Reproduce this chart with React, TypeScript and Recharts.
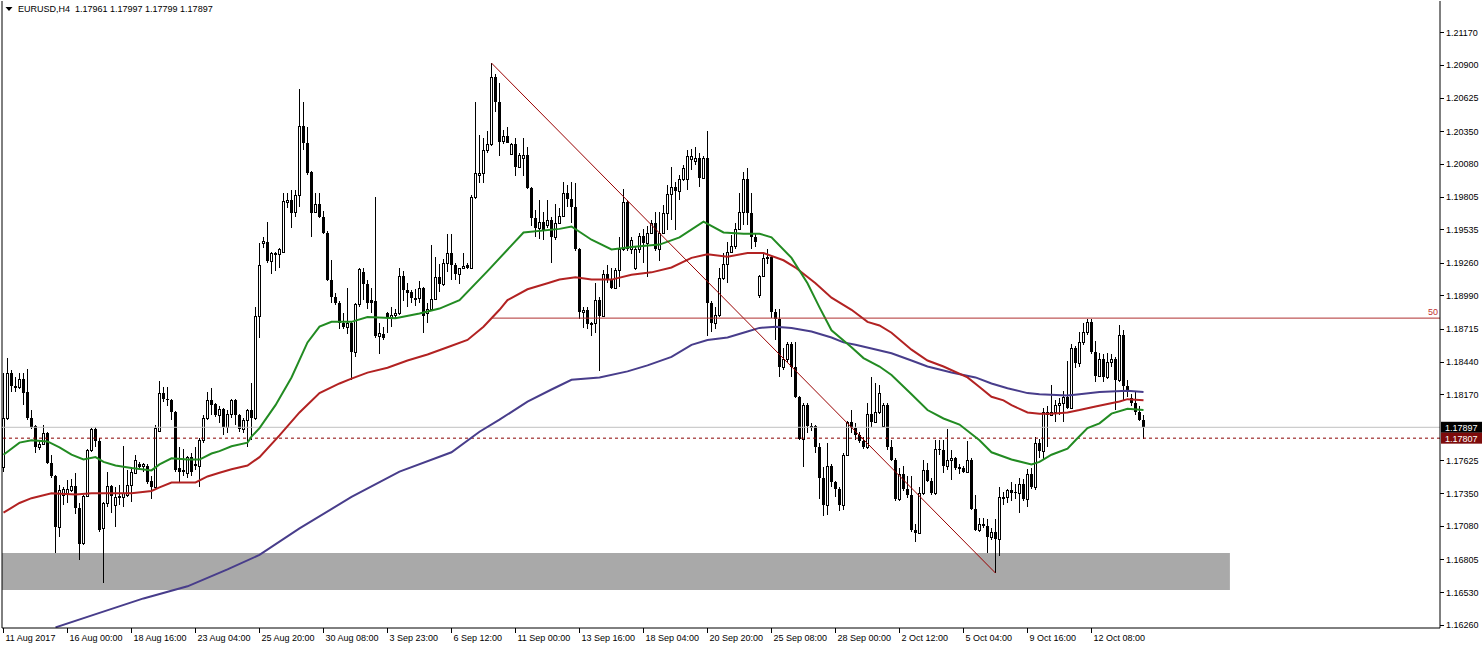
import React from "react";
import { ComposedChart, Bar, Line, XAxis, YAxis, ReferenceLine, ReferenceArea } from "recharts";

document.body.style.margin = "0";

// EURUSD H4 candles: [open, high, low, close]
const candles: number[][] = [
  [1.1757, 1.1835, 1.1753, 1.1797], // 0
  [1.1797, 1.1847, 1.1796, 1.1835],
  [1.1835, 1.1837, 1.1819, 1.1824],
  [1.1824, 1.1831, 1.1819, 1.1822],
  [1.1823, 1.1835, 1.1821, 1.1830],
  [1.1830, 1.1835, 1.1808, 1.1818],
  [1.1819, 1.1838, 1.1796, 1.1797],
  [1.1797, 1.1804, 1.1788, 1.1790],
  [1.1791, 1.1792, 1.1768, 1.1773],
  [1.1773, 1.1779, 1.1771, 1.1776],
  [1.1776, 1.1792, 1.1775, 1.1785], // 10
  [1.1785, 1.1786, 1.1759, 1.1760],
  [1.1760, 1.1767, 1.1748, 1.1749],
  [1.1749, 1.1750, 1.1686, 1.1707],
  [1.1707, 1.1742, 1.1699, 1.1738],
  [1.1734, 1.1740, 1.1725, 1.1739],
  [1.1735, 1.1746, 1.1727, 1.1739],
  [1.1738, 1.1747, 1.1736, 1.1741],
  [1.1741, 1.1752, 1.1718, 1.1723],
  [1.1723, 1.1727, 1.1680, 1.1693],
  [1.1694, 1.1734, 1.1692, 1.1733], // 20
  [1.1733, 1.1772, 1.1732, 1.1771],
  [1.1771, 1.1789, 1.1769, 1.1788],
  [1.1788, 1.1790, 1.1773, 1.1778],
  [1.1778, 1.1781, 1.1703, 1.1705],
  [1.1706, 1.1728, 1.1661, 1.1727],
  [1.1727, 1.1753, 1.1724, 1.1741],
  [1.1741, 1.1742, 1.1719, 1.1733],
  [1.1725, 1.1740, 1.1707, 1.1732],
  [1.1732, 1.1742, 1.1725, 1.1733],
  [1.1732, 1.1774, 1.1724, 1.1735], // 30
  [1.1734, 1.1754, 1.1732, 1.1742],
  [1.1742, 1.1757, 1.1728, 1.1753],
  [1.1752, 1.1767, 1.1751, 1.1763],
  [1.1759, 1.1761, 1.1756, 1.1757],
  [1.1758, 1.1760, 1.1753, 1.1759],
  [1.1758, 1.1759, 1.1743, 1.1744],
  [1.1745, 1.1749, 1.1730, 1.1740],
  [1.1740, 1.1792, 1.1738, 1.1789],
  [1.1787, 1.1828, 1.1786, 1.1818],
  [1.1818, 1.1823, 1.1811, 1.1813], // 40
  [1.1813, 1.1823, 1.1807, 1.1812],
  [1.1812, 1.1813, 1.1796, 1.1802],
  [1.1802, 1.1803, 1.1753, 1.1754],
  [1.1756, 1.1773, 1.1744, 1.1753],
  [1.1754, 1.1772, 1.1749, 1.1753],
  [1.1752, 1.1766, 1.1748, 1.1765],
  [1.1765, 1.1768, 1.1749, 1.1753],
  [1.1759, 1.1773, 1.1754, 1.1758],
  [1.1758, 1.1781, 1.1740, 1.1779],
  [1.1779, 1.1800, 1.1777, 1.1797], // 50
  [1.1797, 1.1819, 1.1796, 1.1812],
  [1.1812, 1.1822, 1.1800, 1.1808],
  [1.1809, 1.1810, 1.1798, 1.1800],
  [1.1800, 1.1807, 1.1793, 1.1805],
  [1.1805, 1.1806, 1.1783, 1.1790],
  [1.1790, 1.1804, 1.1785, 1.1801],
  [1.1801, 1.1813, 1.1797, 1.1812],
  [1.1812, 1.1813, 1.1792, 1.1800],
  [1.1800, 1.1801, 1.1786, 1.1788],
  [1.1788, 1.1797, 1.1785, 1.1796], // 60
  [1.1796, 1.1805, 1.1773, 1.1804],
  [1.1804, 1.1826, 1.1779, 1.1797],
  [1.1797, 1.1889, 1.1796, 1.1882],
  [1.1882, 1.1942, 1.1864, 1.1924],
  [1.1942, 1.1947, 1.1938, 1.1944],
  [1.1943, 1.1960, 1.1926, 1.1927],
  [1.1927, 1.1935, 1.1917, 1.1934],
  [1.1933, 1.1935, 1.1919, 1.1934],
  [1.1933, 1.1938, 1.1922, 1.1937],
  [1.1935, 1.1984, 1.1934, 1.1977], // 70
  [1.1976, 1.1984, 1.1971, 1.1978],
  [1.1978, 1.1986, 1.1955, 1.1967],
  [1.1968, 1.1986, 1.1964, 1.1982],
  [1.1982, 1.2070, 1.1972, 1.2039],
  [1.2039, 1.2059, 1.2019, 1.2025],
  [1.2025, 1.2038, 1.1999, 1.2000],
  [1.2001, 1.2002, 1.1947, 1.1967],
  [1.1968, 1.1984, 1.1967, 1.1975],
  [1.1975, 1.1984, 1.1963, 1.1964],
  [1.1964, 1.1969, 1.1950, 1.1951], // 80
  [1.1951, 1.1952, 1.1911, 1.1912],
  [1.1912, 1.1928, 1.1893, 1.1898],
  [1.1898, 1.1901, 1.1891, 1.1893],
  [1.1893, 1.1894, 1.1871, 1.1876],
  [1.1876, 1.1884, 1.1871, 1.1873],
  [1.1873, 1.1905, 1.1867, 1.1876],
  [1.1876, 1.1877, 1.1829, 1.1852],
  [1.1852, 1.1893, 1.1848, 1.1892],
  [1.1892, 1.1922, 1.1889, 1.1921],
  [1.1918, 1.1922, 1.1895, 1.1908], // 90
  [1.1908, 1.1912, 1.1888, 1.1893],
  [1.1895, 1.1905, 1.1884, 1.1893],
  [1.1894, 1.1980, 1.1864, 1.1865],
  [1.1865, 1.1876, 1.1850, 1.1868],
  [1.1867, 1.1873, 1.1862, 1.1864],
  [1.1884, 1.1885, 1.1868, 1.1880],
  [1.1880, 1.1889, 1.1873, 1.1883],
  [1.1883, 1.1888, 1.1880, 1.1884],
  [1.1884, 1.1922, 1.1883, 1.1915],
  [1.1915, 1.1919, 1.1894, 1.1903], // 100
  [1.1903, 1.1909, 1.1889, 1.1901],
  [1.1902, 1.1903, 1.1893, 1.1897],
  [1.1897, 1.1904, 1.1890, 1.1897],
  [1.1897, 1.1911, 1.1893, 1.1905],
  [1.1905, 1.1906, 1.1868, 1.1882],
  [1.1884, 1.1893, 1.1876, 1.1888],
  [1.1888, 1.1941, 1.1887, 1.1896],
  [1.1896, 1.1931, 1.1895, 1.1914],
  [1.1914, 1.1925, 1.1902, 1.1908],
  [1.1908, 1.1929, 1.1907, 1.1926], // 110
  [1.1926, 1.1950, 1.1918, 1.1934],
  [1.1934, 1.1950, 1.1912, 1.1924],
  [1.1924, 1.1926, 1.1912, 1.1917],
  [1.1917, 1.1922, 1.1908, 1.1922],
  [1.1922, 1.1934, 1.1921, 1.1923],
  [1.1924, 1.1926, 1.1921, 1.1922],
  [1.1922, 1.1982, 1.1921, 1.1980],
  [1.1980, 1.2059, 1.1979, 1.2000],
  [1.1999, 1.2032, 1.1992, 1.2000],
  [1.2000, 1.2029, 1.1992, 1.2019], // 120
  [1.2019, 1.2035, 1.2017, 1.2024],
  [1.2024, 1.2091, 1.2023, 1.2080],
  [1.2080, 1.2082, 1.2051, 1.2059],
  [1.2059, 1.2075, 1.2014, 1.2026],
  [1.2027, 1.2036, 1.2024, 1.2031],
  [1.2031, 1.2038, 1.2025, 1.2025],
  [1.2016, 1.2025, 1.2015, 1.2024],
  [1.2024, 1.2029, 1.1998, 1.2005],
  [1.2005, 1.2017, 1.2004, 1.2015],
  [1.2013, 1.2029, 1.1998, 1.2015], // 130
  [1.2015, 1.2022, 1.1987, 1.1988],
  [1.1988, 1.1989, 1.1956, 1.1963],
  [1.1963, 1.1970, 1.1947, 1.1955],
  [1.1955, 1.1978, 1.1946, 1.1960],
  [1.1960, 1.1968, 1.1945, 1.1953],
  [1.1957, 1.1978, 1.1955, 1.1961],
  [1.1961, 1.1964, 1.1926, 1.1947],
  [1.1947, 1.1975, 1.1945, 1.1959],
  [1.1959, 1.1971, 1.1958, 1.1965],
  [1.1965, 1.1993, 1.1964, 1.1984], // 140
  [1.1984, 1.1990, 1.1972, 1.1979],
  [1.1979, 1.1993, 1.1959, 1.1972],
  [1.1972, 1.1992, 1.1936, 1.1937],
  [1.1937, 1.1938, 1.1879, 1.1885],
  [1.1885, 1.1889, 1.1872, 1.1887],
  [1.1887, 1.1889, 1.1871, 1.1875],
  [1.1875, 1.1877, 1.1865, 1.1876],
  [1.1876, 1.1909, 1.1868, 1.1895],
  [1.1895, 1.1898, 1.1836, 1.1882],
  [1.1882, 1.1920, 1.1881, 1.1917], // 150
  [1.1917, 1.1924, 1.1909, 1.1912],
  [1.1912, 1.1922, 1.1904, 1.1905],
  [1.1905, 1.1922, 1.1904, 1.1920],
  [1.1920, 1.1947, 1.1906, 1.1937],
  [1.1937, 1.1987, 1.1936, 1.1976],
  [1.1976, 1.1978, 1.1936, 1.1937],
  [1.1937, 1.1947, 1.1933, 1.1945],
  [1.1922, 1.1939, 1.1920, 1.1937],
  [1.1937, 1.1951, 1.1934, 1.1948],
  [1.1948, 1.1954, 1.1926, 1.1942], // 160
  [1.1942, 1.1956, 1.1914, 1.1951],
  [1.1951, 1.1961, 1.1950, 1.1959],
  [1.1959, 1.1968, 1.1936, 1.1937],
  [1.1937, 1.1968, 1.1927, 1.1951],
  [1.1951, 1.1974, 1.1950, 1.1967],
  [1.1967, 1.1990, 1.1953, 1.1983],
  [1.1983, 1.2005, 1.1961, 1.1989],
  [1.1989, 1.1993, 1.1953, 1.1985],
  [1.1985, 1.1999, 1.1978, 1.1995],
  [1.1995, 1.2007, 1.1994, 1.2004], // 170
  [1.1995, 1.2019, 1.1986, 1.2014],
  [1.2012, 1.2020, 1.2003, 1.2014],
  [1.2010, 1.2022, 1.2007, 1.2013],
  [1.2013, 1.2017, 1.1989, 1.1996],
  [1.1996, 1.2014, 1.1995, 1.2013],
  [1.2013, 1.2035, 1.1865, 1.1893],
  [1.1893, 1.1894, 1.1869, 1.1876],
  [1.1876, 1.1889, 1.1871, 1.1883],
  [1.1883, 1.1922, 1.1881, 1.1913],
  [1.1913, 1.1934, 1.1912, 1.1925], // 180
  [1.1925, 1.1943, 1.1909, 1.1935],
  [1.1935, 1.1949, 1.1934, 1.1940],
  [1.1940, 1.1959, 1.1937, 1.1954],
  [1.1954, 1.1984, 1.1953, 1.1968],
  [1.1968, 1.2001, 1.1957, 1.1995],
  [1.1995, 1.2004, 1.1957, 1.1967],
  [1.1967, 1.1984, 1.1937, 1.1947],
  [1.1947, 1.1951, 1.1939, 1.1943],
  [1.1899, 1.1916, 1.1897, 1.1915],
  [1.1915, 1.1933, 1.1914, 1.1930], // 190
  [1.1930, 1.1937, 1.1925, 1.1931],
  [1.1931, 1.1932, 1.1880, 1.1885],
  [1.1885, 1.1888, 1.1862, 1.1879],
  [1.1879, 1.1888, 1.1831, 1.1840],
  [1.1840, 1.1855, 1.1837, 1.1846],
  [1.1846, 1.1860, 1.1843, 1.1859],
  [1.1859, 1.1860, 1.1831, 1.1840],
  [1.1840, 1.1860, 1.1814, 1.1815],
  [1.1815, 1.1816, 1.1779, 1.1780],
  [1.1780, 1.1810, 1.1757, 1.1808], // 200
  [1.1808, 1.1810, 1.1785, 1.1791],
  [1.1790, 1.1793, 1.1787, 1.1791],
  [1.1791, 1.1792, 1.1768, 1.1773],
  [1.1773, 1.1777, 1.1730, 1.1748],
  [1.1748, 1.1757, 1.1716, 1.1725],
  [1.1725, 1.1777, 1.1717, 1.1758],
  [1.1758, 1.1759, 1.1740, 1.1744],
  [1.1744, 1.1745, 1.1732, 1.1739],
  [1.1739, 1.1740, 1.1720, 1.1725],
  [1.1725, 1.1768, 1.1721, 1.1767], // 210
  [1.1767, 1.1795, 1.1766, 1.1794],
  [1.1794, 1.1804, 1.1785, 1.1789],
  [1.1789, 1.1793, 1.1779, 1.1783],
  [1.1783, 1.1786, 1.1777, 1.1778],
  [1.1778, 1.1782, 1.1772, 1.1773],
  [1.1773, 1.1810, 1.1772, 1.1801],
  [1.1801, 1.1831, 1.1790, 1.1794],
  [1.1794, 1.1826, 1.1793, 1.1802],
  [1.1802, 1.1825, 1.1801, 1.1818],
  [1.1791, 1.1810, 1.1790, 1.1808], // 220
  [1.1808, 1.1810, 1.1771, 1.1773],
  [1.1773, 1.1779, 1.1762, 1.1763],
  [1.1763, 1.1764, 1.1729, 1.1730],
  [1.1730, 1.1756, 1.1729, 1.1751],
  [1.1751, 1.1758, 1.1737, 1.1739],
  [1.1739, 1.1749, 1.1731, 1.1734],
  [1.1734, 1.1749, 1.1703, 1.1705],
  [1.1705, 1.1710, 1.1695, 1.1702],
  [1.1702, 1.1740, 1.1701, 1.1735],
  [1.1735, 1.1763, 1.1734, 1.1754], // 230
  [1.1754, 1.1760, 1.1744, 1.1745],
  [1.1745, 1.1748, 1.1734, 1.1735],
  [1.1735, 1.1779, 1.1734, 1.1772],
  [1.1772, 1.1779, 1.1767, 1.1771],
  [1.1771, 1.1779, 1.1752, 1.1758],
  [1.1758, 1.1788, 1.1754, 1.1763],
  [1.1763, 1.1771, 1.1746, 1.1764],
  [1.1764, 1.1765, 1.1754, 1.1756],
  [1.1757, 1.1759, 1.1751, 1.1755],
  [1.1756, 1.1758, 1.1752, 1.1753], // 240
  [1.1753, 1.1778, 1.1752, 1.1763],
  [1.1763, 1.1764, 1.1721, 1.1722],
  [1.1722, 1.1734, 1.1704, 1.1705],
  [1.1705, 1.1715, 1.1703, 1.1710],
  [1.1710, 1.1715, 1.1706, 1.1708],
  [1.1708, 1.1714, 1.1686, 1.1699],
  [1.1699, 1.1706, 1.1696, 1.1703],
  [1.1703, 1.1714, 1.1669, 1.1697],
  [1.1697, 1.1740, 1.1683, 1.1732],
  [1.1732, 1.1736, 1.1725, 1.1732], // 250
  [1.1732, 1.1739, 1.1727, 1.1738],
  [1.1738, 1.1744, 1.1729, 1.1735],
  [1.1736, 1.1743, 1.1730, 1.1735],
  [1.1735, 1.1748, 1.1719, 1.1743],
  [1.1743, 1.1747, 1.1729, 1.1730],
  [1.1730, 1.1755, 1.1724, 1.1751],
  [1.1751, 1.1756, 1.1739, 1.1740],
  [1.1740, 1.1782, 1.1738, 1.1777],
  [1.1777, 1.1780, 1.1764, 1.1770],
  [1.1770, 1.1806, 1.1763, 1.1802], // 260
  [1.1802, 1.1807, 1.1773, 1.1800],
  [1.1800, 1.1825, 1.1799, 1.1802],
  [1.1802, 1.1812, 1.1794, 1.1808],
  [1.1808, 1.1814, 1.1800, 1.1810],
  [1.1810, 1.1820, 1.1794, 1.1815],
  [1.1815, 1.1845, 1.1805, 1.1806],
  [1.1806, 1.1859, 1.1805, 1.1855],
  [1.1855, 1.1857, 1.1839, 1.1843],
  [1.1843, 1.1869, 1.1840, 1.1860],
  [1.1860, 1.1876, 1.1858, 1.1869], // 270
  [1.1869, 1.1879, 1.1866, 1.1877],
  [1.1877, 1.1879, 1.1850, 1.1852],
  [1.1852, 1.1861, 1.1827, 1.1832],
  [1.1832, 1.1851, 1.1831, 1.1846],
  [1.1846, 1.1850, 1.1827, 1.1831],
  [1.1831, 1.1851, 1.1830, 1.1844],
  [1.1844, 1.1850, 1.1840, 1.1846],
  [1.1846, 1.1848, 1.1804, 1.1829],
  [1.1829, 1.1874, 1.1827, 1.1866],
  [1.1866, 1.1870, 1.1812, 1.1824], // 280
  [1.1824, 1.1829, 1.1815, 1.1819],
  [1.1814, 1.1817, 1.1807, 1.1810],
  [1.1810, 1.1819, 1.1800, 1.1802],
  [1.1802, 1.1807, 1.1795, 1.1796],
  [1.17961, 1.17997, 1.17799, 1.17897], // 285
];

// moving averages, read at these bar indexes
const greenIdx = [0, 4, 7, 11, 14, 17, 20, 23, 25, 28, 32, 37, 39, 42, 46, 49, 52, 54, 57, 61, 62, 64, 68, 72, 76, 79, 82, 87, 91, 98, 104, 109, 114, 121, 130, 139, 142, 147, 152, 157, 164, 169, 175, 180, 185, 189, 192, 197, 201, 204, 207, 212, 215, 219, 222, 227, 231, 235, 239, 244, 247, 252, 257, 259, 262, 266, 268, 271, 274, 277, 281, 285];
const greenVal = [1.1767, 1.1777, 1.1779, 1.1778, 1.1773, 1.1767, 1.1763, 1.1765, 1.1761, 1.1758, 1.1756, 1.1754, 1.1759, 1.1764, 1.1763, 1.1763, 1.1768, 1.1770, 1.1774, 1.1777, 1.1782, 1.1789, 1.1808, 1.1831, 1.1860, 1.1873, 1.1877, 1.1877, 1.1881, 1.1880, 1.1884, 1.1888, 1.1895, 1.1919, 1.1951, 1.1954, 1.1956, 1.1945, 1.1937, 1.1939, 1.1941, 1.1947, 1.1960, 1.1951, 1.1950, 1.1950, 1.1947, 1.1930, 1.1909, 1.1889, 1.1870, 1.1856, 1.1847, 1.1840, 1.1833, 1.1817, 1.1804, 1.1797, 1.1792, 1.1779, 1.1769, 1.1763, 1.1759, 1.1761, 1.1767, 1.1772, 1.1779, 1.1789, 1.1793, 1.1801, 1.1805, 1.1804];

const redIdx = [0, 4, 7, 12, 18, 22, 32, 37, 39, 42, 48, 51, 54, 57, 61, 64, 69, 74, 79, 84, 87, 91, 96, 101, 106, 111, 116, 120, 124, 126, 131, 136, 139, 143, 147, 152, 157, 162, 167, 172, 176, 181, 186, 190, 195, 198, 203, 207, 212, 216, 219, 222, 227, 231, 235, 241, 244, 247, 250, 252, 256, 259, 262, 266, 269, 273, 276, 279, 281, 285];
const redVal = [1.1719, 1.1727, 1.1731, 1.1735, 1.1734, 1.1735, 1.1735, 1.1737, 1.1740, 1.1744, 1.1744, 1.1749, 1.1752, 1.1755, 1.1758, 1.1765, 1.1783, 1.1802, 1.1818, 1.1826, 1.1830, 1.1835, 1.1839, 1.1845, 1.1850, 1.1856, 1.1862, 1.1873, 1.1887, 1.1895, 1.1904, 1.1909, 1.1912, 1.1914, 1.1912, 1.1912, 1.1916, 1.1918, 1.1922, 1.1930, 1.1933, 1.1931, 1.1934, 1.1934, 1.1928, 1.1922, 1.1909, 1.1897, 1.1887, 1.1877, 1.1874, 1.1868, 1.1854, 1.1845, 1.1840, 1.1831, 1.1823, 1.1815, 1.1812, 1.1808, 1.1802, 1.1801, 1.1801, 1.1802, 1.1804, 1.1807, 1.1809, 1.1811, 1.1813, 1.1812];

const purpleIdx = [13, 24, 35, 46, 56, 64, 74, 87, 99, 112, 119, 124, 131, 137, 142, 149, 156, 161, 167, 172, 176, 181, 186, 189, 193, 197, 202, 207, 210, 213, 217, 222, 227, 231, 237, 243, 247, 251, 256, 259, 266, 269, 274, 281, 285];
const purpleVal = [1.1624, 1.1636, 1.1648, 1.1658, 1.1672, 1.1684, 1.1706, 1.1732, 1.1753, 1.1769, 1.1786, 1.1796, 1.1811, 1.1821, 1.1829, 1.1831, 1.1836, 1.1841, 1.1848, 1.1858, 1.1862, 1.1864, 1.1869, 1.1872, 1.1873, 1.1872, 1.1869, 1.1864, 1.1860, 1.1858, 1.1855, 1.1851, 1.1845, 1.1840, 1.1835, 1.1831, 1.1826, 1.1822, 1.1818, 1.1817, 1.1816, 1.1817, 1.1819, 1.1820, 1.1819];

const timeTicks = [0, 16, 32, 48, 64, 80, 96, 112, 128, 144, 160, 176, 192, 208, 224, 240, 256, 272];
const timeLabels = ["11 Aug 2017", "16 Aug 00:00", "18 Aug 16:00", "23 Aug 04:00", "25 Aug 20:00", "30 Aug 08:00", "3 Sep 23:00", "6 Sep 12:00", "11 Sep 00:00", "13 Sep 16:00", "18 Sep 04:00", "20 Sep 20:00", "25 Sep 08:00", "28 Sep 00:00", "2 Oct 12:00", "5 Oct 04:00", "9 Oct 16:00", "12 Oct 08:00"];
const priceTicks = [1.2117, 1.209, 1.20625, 1.2035, 1.2008, 1.19805, 1.19535, 1.1926, 1.1899, 1.18715, 1.1844, 1.1817, 1.17625, 1.1735, 1.1708, 1.16805, 1.1653, 1.1626];

const bidPrice = 1.17897;
const levelPrice = 1.17807;
const fibHigh = { i: 122, p: 1.20913 };
const fibLow = { i: 248, p: 1.1669 };
const fib50 = 1.18801;
const zoneTop = 1.16856;
const zoneBottom = 1.1655;
const zoneEnd = 306.6;

const FONT = "'Liberation Sans', Arial, sans-serif";

const rows: any[] = candles.map((c, i) => ({ i, o: c[0], h: c[1], l: c[2], c: c[3], range: [c[2], c[1]] }));
greenIdx.forEach((k, j) => (rows[k].g = greenVal[j]));
redIdx.forEach((k, j) => (rows[k].r = redVal[j]));
purpleIdx.forEach((k, j) => (rows[k].p = purpleVal[j]));

const Candle = (props: any) => {
  const { x, y, width, height, payload } = props;
  if (!payload) return null;
  const { o, h, l, c } = payload;
  const top = height < 0 ? y + height : y;
  const hh = Math.abs(height);
  const k = hh / (h - l);
  const cx = Math.floor(x + width / 2);
  const yOf = (v: number) => top + (h - v) * k;
  const bTop = Math.round(yOf(Math.max(o, c)));
  const bBot = Math.round(yOf(Math.min(o, c)));
  const up = c >= o;
  return (
    <g>
      <line x1={cx + 0.5} x2={cx + 0.5} y1={Math.round(top)} y2={Math.round(top + hh)} stroke="#000" strokeWidth={1} />
      {up ? (
        <rect x={cx - 0.5} y={bTop + 0.5} width={2} height={Math.max(bBot - bTop, 1)} fill="#fff" stroke="#000" strokeWidth={1} />
      ) : (
        <rect x={cx - 1} y={bTop} width={3} height={Math.max(bBot - bTop, 1)} fill="#000" />
      )}
    </g>
  );
};

const XTick = (props: any) => {
  const { x, y, payload } = props;
  const j = timeTicks.indexOf(payload.value);
  const px = Math.floor(x) + 0.5;
  return (
    <g>
      <line x1={px} x2={px} y1={y} y2={y + 5} stroke="#000" />
      <text x={px + 2} y={y + 13} fontSize={9} fontFamily={FONT} fill="#000">
        {timeLabels[j]}
      </text>
    </g>
  );
};

const YTick = (props: any) => {
  const { x, y, payload } = props;
  const v = payload.value;
  if (v === bidPrice || v === levelPrice) {
    return (
      <g>
        <rect x={x + 1} y={y - 5.5} width={42} height={11} fill={v === bidPrice ? "#000" : "#7d0b0b"} />
        <text x={x + 5} y={y + 3.5} fontSize={9} fontFamily={FONT} fill="#fff">
          {v.toFixed(5)}
        </text>
      </g>
    );
  }
  return (
    <g>
      <line x1={x} x2={x + 4} y1={Math.round(y) + 0.5} y2={Math.round(y) + 0.5} stroke="#000" />
      <text x={x + 6} y={y + 3.5} fontSize={9} fontFamily={FONT} fill="#000">
        {v.toFixed(5)}
      </text>
    </g>
  );
};

const FibLabel = (props: any) => {
  const vb = props.viewBox || {};
  const xr = (vb.x || 0) + (vb.width || 0);
  return (
    <text x={xr - 12} y={(vb.y || 0) - 3} fontSize={9} fontFamily={FONT} fill="#c03030">
      50
    </text>
  );
};

export default function App() {
  return (
    <div style={{ position: "relative", width: 1482, height: 649, background: "#fff" }}>
      <ComposedChart width={1482} height={649} data={rows} margin={{ top: 1, right: 0, bottom: 0, left: 2 }}>
        <XAxis
          dataKey="i"
          type="number"
          domain={[-0.375, 359.125]}
          allowDataOverflow
          ticks={timeTicks}
          interval={0}
          tick={<XTick />}
          tickLine={false}
          tickSize={0}
          tickMargin={0}
          height={21}
          axisLine={{ stroke: "#000" }}
        />
        <YAxis
          orientation="right"
          type="number"
          domain={[1.16235, 1.21427]}
          allowDataOverflow
          ticks={[...priceTicks, bidPrice, levelPrice]}
          interval={0}
          tick={<YTick />}
          tickLine={false}
          tickSize={0}
          tickMargin={0}
          width={42}
          axisLine={{ stroke: "#000" }}
        />
        <ReferenceArea x1={-0.375} x2={zoneEnd} y1={zoneBottom} y2={zoneTop} fill="#a9a9a9" fillOpacity={1} stroke="none" />
        <ReferenceLine x={-0.375} stroke="#000" />
        <ReferenceLine y={bidPrice} stroke="#c0c0c0" />
        <ReferenceLine y={levelPrice} stroke="#8b0000" strokeDasharray="3 3" />
        <Bar dataKey="range" barSize={3} shape={<Candle />} isAnimationActive={false} />
        <Line dataKey="p" stroke="#483d8b" strokeWidth={2} dot={false} connectNulls type="linear" isAnimationActive={false} />
        <Line dataKey="r" stroke="#b22222" strokeWidth={2} dot={false} connectNulls type="linear" isAnimationActive={false} />
        <Line dataKey="g" stroke="#228b22" strokeWidth={2} dot={false} connectNulls type="linear" isAnimationActive={false} />
        <ReferenceLine
          segment={[{ x: fibHigh.i, y: fibHigh.p }, { x: fibLow.i, y: fibLow.p }]}
          stroke="#990000"
          strokeWidth={1}
        />
        <ReferenceLine
          segment={[{ x: fibHigh.i, y: fib50 }, { x: 359.125, y: fib50 }]}
          stroke="#b03030"
          strokeWidth={1}
          label={<FibLabel />}
        />
      </ComposedChart>
      <div
        style={{
          position: "absolute",
          left: 5,
          top: 4,
          fontFamily: FONT,
          fontSize: 9,
          color: "#000",
          whiteSpace: "pre",
          display: "flex",
          alignItems: "center",
          background: "#fff",
        }}
      >
        <svg width={9} height={8} style={{ marginRight: 4 }}>
          <polygon points="0.5,2 7.5,2 4,6" fill="#000" />
        </svg>
        <span>EURUSD,H4  1.17961 1.17997 1.17799 1.17897</span>
      </div>
    </div>
  );
}
